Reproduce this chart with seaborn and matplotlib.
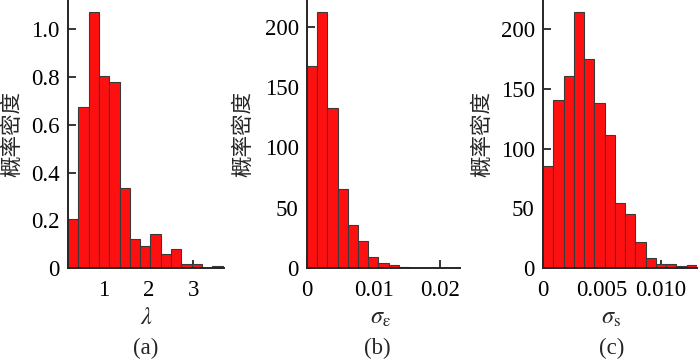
import numpy as np
import pandas as pd
import matplotlib
matplotlib.use("Agg")
import matplotlib.pyplot as plt
import seaborn as sns

# ===================== DATA =====================
# (a) lambda
lam_edges = [0.215, 0.444, 0.673, 0.902, 1.131, 1.360, 1.589, 1.818, 2.047,
             2.276, 2.505, 2.734, 2.963, 3.192, 3.421, 3.650]
lam_density = [0.205, 0.675, 1.074, 0.805, 0.781, 0.335, 0.123, 0.091, 0.142,
               0.060, 0.078, 0.017, 0.017, 0.0, 0.007]

# (b) sigma_eps
se_edges = [0.0, 0.00153, 0.00307, 0.0046, 0.00613, 0.00767, 0.0092, 0.01073,
            0.01227, 0.0138, 0.01533, 0.01687, 0.0184, 0.01993, 0.02147, 0.023]
se_density = [167.7, 212.4, 132.4, 65.7, 35.9, 22.1, 8.8, 4.4, 2.8, 1.1,
              0.4, 0.3, 0.3, 0.3, 0.4]

# (c) sigma_s
ss_edges = [0.0, 0.00087, 0.00175, 0.00262, 0.00349, 0.00437, 0.00524, 0.00611,
            0.00699, 0.00786, 0.00873, 0.00961, 0.01048, 0.01135, 0.01223, 0.0131]
ss_density = [85.1, 140.9, 160.9, 214.8, 174.9, 138.1, 111.6, 54.4, 44.9,
              21.8, 8.6, 3.6, 3.1, 1.4, 2.2]

# ===================== STYLE =====================
sns.set_theme(style="ticks")
plt.rcParams["font.family"] = ["Liberation Serif", "Noto Sans CJK SC"]
plt.rcParams["mathtext.fontset"] = "stix"
plt.rcParams["axes.linewidth"] = 1.4

FS = 16.5
BAR = "#ff1010"
EDGE = "#3a3a3a"

fig = plt.figure(figsize=(7, 3.6), dpi=100)

panels = [
    dict(edges=lam_edges, dens=lam_density, rect=[68, 156], xlim=(0.215, 3.68),
         ylim=(0, 1.123), xticks=[1, 2, 3], xtl=["1", "2", "3"],
         yticks=[0, 0.2, 0.4, 0.6, 0.8, 1.0], ytl=["0", "0.2", "0.4", "0.6", "0.8", "1.0"],
         xlabel=r"$\lambda$", xl_x=0.5, yl_x=-0.285, tag="(a)", tag_x=146),
    dict(edges=se_edges, dens=se_density, rect=[307, 153], xlim=(0, 0.023),
         ylim=(0, 222), xticks=[0, 0.01, 0.02], xtl=["0", "0.01", "0.02"],
         yticks=[0, 50, 100, 150, 200], ytl=["0", "50", "100", "150", "200"],
         xlabel=r"$\sigma_{\mathrm{\varepsilon}}$", xl_x=0.477, yl_x=-0.345, tag="(b)", tag_x=377),
    dict(edges=ss_edges, dens=ss_density, rect=[543, 154], xlim=(0, 0.0131),
         ylim=(0, 224.5), xticks=[0, 0.005, 0.010], xtl=["0", "0.005", "0.010"],
         yticks=[0, 50, 100, 150, 200], ytl=["0", "50", "100", "150", "200"],
         xlabel=r"$\sigma_{\mathrm{s}}$", xl_x=0.444, yl_x=-0.325, tag="(c)", tag_x=612),
]

W, H = 700, 360
for p in panels:
    left, width = p["rect"]
    ax = fig.add_axes([left / W, 1 - 268 / H, width / W, 268 / H])
    edges = p["edges"]
    df = pd.DataFrame({
        "center": [(a + b) / 2 for a, b in zip(edges[:-1], edges[1:])],
        "density": p["dens"],
    })
    sns.histplot(data=df, x="center", weights="density", bins=edges, ax=ax,
                 color=BAR, edgecolor=EDGE, linewidth=0.8, alpha=1)
    ax.set_xlim(*p["xlim"])
    ax.set_ylim(*p["ylim"])
    ax.set_xticks(p["xticks"])
    ax.set_xticklabels(p["xtl"])
    ax.set_yticks(p["yticks"])
    ax.set_yticklabels(p["ytl"])
    ax.tick_params(direction="in", length=6, width=1.1, labelsize=FS, pad=6, colors="black")
    ax.tick_params(axis="x", pad=9)
    sns.despine(ax=ax)
    ax.set_xlabel(p["xlabel"], fontsize=FS + 1)
    ax.xaxis.set_label_coords(p["xl_x"], -0.150)
    ax.set_ylabel("概率密度", fontsize=15.5, family=["Noto Sans CJK SC"])
    ax.yaxis.set_label_coords(p["yl_x"], 0.5)
    fig.text(p["tag_x"] / W, 1 - 348 / H, p["tag"], fontsize=16.5, ha="center", va="center")

fig.savefig("out.png", dpi=100)
